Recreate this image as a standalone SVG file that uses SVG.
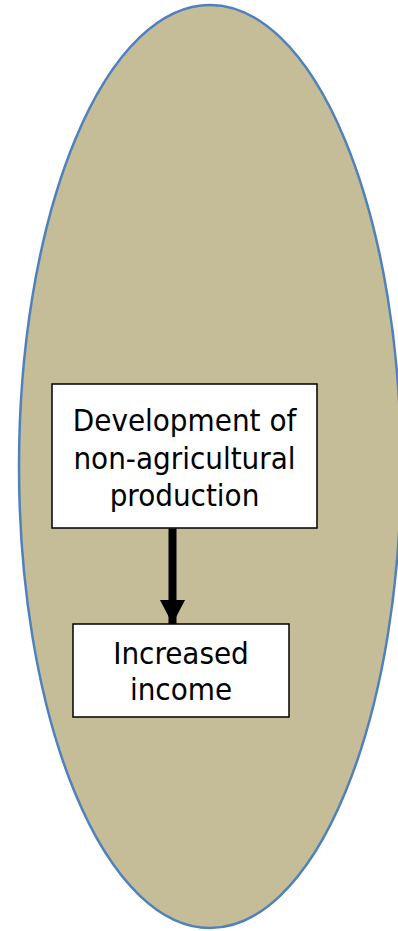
<svg xmlns="http://www.w3.org/2000/svg" width="398" height="931" viewBox="0 0 398 931">
  <defs>
    <style>
      .bg { fill: #C4BD97; stroke: #4F81BD; stroke-width: 2.5; }
      .box { fill: #FFFFFF; stroke: #000000; stroke-width: 1.5; }
      .lbl { font-family: "DejaVu Sans Condensed", "DejaVu Sans", "Liberation Sans", sans-serif; font-stretch: condensed; font-size: 31px; fill: #000000; text-anchor: middle; }
      .conn { stroke: #000000; stroke-width: 8; fill: none; }
    </style>
    <marker id="ah" markerUnits="userSpaceOnUse" markerWidth="26" markerHeight="26" refX="24" refY="12.5" orient="auto">
      <path d="M0,0 L24,12.5 L0,25 Z" fill="#000000"/>
    </marker>
  </defs>
  <g id="background">
    <ellipse class="bg" cx="210" cy="466.5" rx="191" ry="461.5"/>
  </g>
  <g id="node-development">
    <rect class="box" x="52" y="384" width="265" height="144"/>
    <text class="lbl" x="184.5" y="431">Development of</text>
    <text class="lbl" x="184.5" y="468.5">non-agricultural</text>
    <text class="lbl" x="184.5" y="506">production</text>
  </g>
  <g id="node-income">
    <rect class="box" x="73" y="624" width="216" height="93"/>
    <text class="lbl" x="181" y="664">Increased</text>
    <text class="lbl" x="181" y="700">income</text>
  </g>
  <g id="connectors">
    <line class="conn" x1="172.5" y1="528.5" x2="172.5" y2="624" marker-end="url(#ah)"/>
  </g>
</svg>
